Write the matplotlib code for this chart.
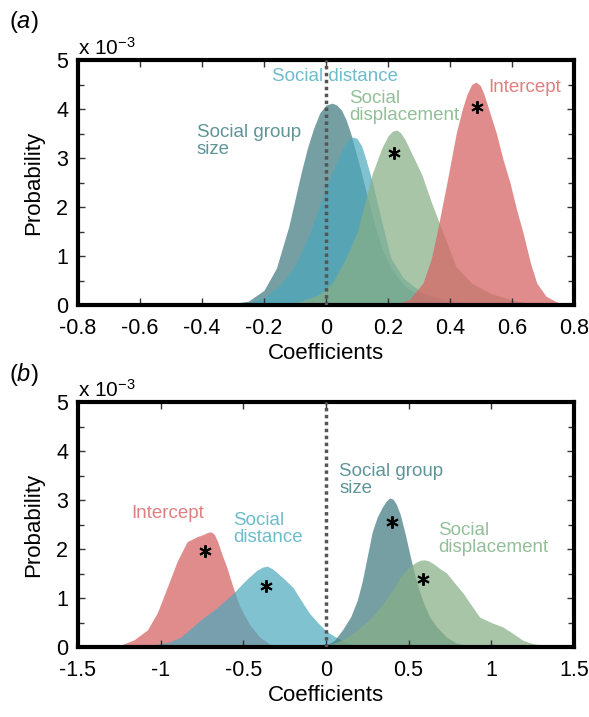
import matplotlib
matplotlib.use("Agg")
import matplotlib.pyplot as plt
from matplotlib.ticker import MultipleLocator

plt.rcParams['font.family'] = ['Liberation Sans', 'DejaVu Sans']
plt.rcParams['mathtext.fontset'] = 'custom'
plt.rcParams['mathtext.rm'] = 'Liberation Sans'
plt.rcParams['mathtext.it'] = 'Liberation Sans:italic'

# colours
c_red = '#d86666'
c_green = '#87af87'
c_blue = '#4ba8bc'
c_teal = '#407a80'

# ---- panel (a) densities, y in units of 1e-3 ----
a_group_x = [-0.36, -0.3, -0.25, -0.2, -0.16, -0.12, -0.1, -0.08, -0.06, -0.04, -0.02, 0.0, 0.02, 0.035, 0.05, 0.065, 0.08, 0.11, 0.15, 0.18, 0.21, 0.25, 0.3, 0.36, 0.42]
a_group_y = [0.0, 0.03, 0.08, 0.3, 0.75, 1.6, 2.15, 2.7, 3.2, 3.6, 3.92, 4.08, 4.12, 4.08, 3.98, 3.78, 3.5, 2.8, 1.8, 1.15, 0.75, 0.4, 0.2, 0.07, 0.0]

a_dist_x = [-0.32, -0.25, -0.2, -0.15, -0.1, -0.05, 0.0, 0.03, 0.05, 0.07, 0.085, 0.1, 0.115, 0.13, 0.15, 0.18, 0.21, 0.25, 0.31, 0.38, 0.45, 0.52]
a_dist_y = [0.0, 0.05, 0.15, 0.4, 0.8, 1.5, 2.4, 2.85, 3.15, 3.35, 3.43, 3.4, 3.25, 2.95, 2.5, 1.7, 0.95, 0.55, 0.25, 0.12, 0.05, 0.0]

a_disp_x = [-0.15, -0.08, -0.02, 0.02, 0.06, 0.1, 0.13, 0.15, 0.18, 0.2, 0.215, 0.228, 0.24, 0.255, 0.28, 0.31, 0.34, 0.37, 0.42, 0.47, 0.53, 0.6, 0.7]
a_disp_y = [0.0, 0.08, 0.22, 0.45, 0.9, 1.47, 2.2, 2.69, 3.2, 3.45, 3.55, 3.57, 3.52, 3.38, 3.05, 2.65, 2.1, 1.6, 0.78, 0.45, 0.24, 0.1, 0.0]

a_int_x = [0.22, 0.27, 0.313, 0.34, 0.358, 0.39, 0.42, 0.44, 0.455, 0.47, 0.484, 0.498, 0.51, 0.525, 0.55, 0.57, 0.594, 0.615, 0.636, 0.66, 0.68, 0.71, 0.745, 0.78]
a_int_y = [0.0, 0.12, 0.45, 0.95, 1.47, 2.49, 3.5, 4.0, 4.3, 4.5, 4.55, 4.48, 4.3, 4.0, 3.5, 3.0, 2.49, 1.95, 1.47, 0.85, 0.45, 0.18, 0.06, 0.0]

a_stars_x = [0.487, 0.22]
a_stars_y = [4.04, 3.1]
a_ticks = [-0.8, -0.6, -0.4, -0.2, 0, 0.2, 0.4, 0.6, 0.8]
a_ticklabels = ['-0.8', '-0.6', '-0.4', '-0.2', '0', '0.2', '0.4', '0.6', '0.8']

# ---- panel (b) densities ----
b_int_x = [-1.35, -1.24, -1.16, -1.08, -1.02, -0.96, -0.9, -0.84, -0.78, -0.74, -0.715, -0.695, -0.675, -0.655, -0.63, -0.6, -0.56, -0.52, -0.46, -0.4, -0.34, -0.28]
b_int_y = [0.0, 0.04, 0.15, 0.35, 0.7, 1.22, 1.75, 2.15, 2.25, 2.3, 2.34, 2.35, 2.3, 2.15, 1.9, 1.63, 1.2, 0.82, 0.45, 0.2, 0.06, 0.0]

b_dist_x = [-1.25, -1.06, -0.95, -0.88, -0.82, -0.76, -0.66, -0.56, -0.48, -0.42, -0.385, -0.355, -0.325, -0.3, -0.25, -0.2, -0.15, -0.1, -0.05, 0.0, 0.05, 0.1, 0.17, 0.25]
b_dist_y = [0.0, 0.04, 0.1, 0.2, 0.37, 0.55, 0.8, 1.1, 1.38, 1.56, 1.63, 1.65, 1.6, 1.53, 1.38, 1.22, 0.95, 0.69, 0.5, 0.33, 0.22, 0.13, 0.05, 0.0]

b_group_x = [-0.05, 0.0, 0.05, 0.1, 0.15, 0.19, 0.22, 0.25, 0.28, 0.31, 0.34, 0.365, 0.385, 0.405, 0.425, 0.45, 0.48, 0.51, 0.535, 0.56, 0.59, 0.63, 0.67, 0.73, 0.79, 0.9]
b_group_y = [0.0, 0.04, 0.13, 0.35, 0.62, 0.96, 1.35, 1.85, 2.35, 2.65, 2.85, 2.98, 3.04, 3.02, 2.92, 2.7, 2.3, 1.85, 1.5, 1.2, 0.9, 0.6, 0.41, 0.2, 0.08, 0.0]

b_disp_x = [-0.05, 0.05, 0.12, 0.19, 0.26, 0.33, 0.4, 0.45, 0.5, 0.54, 0.57, 0.595, 0.62, 0.65, 0.69, 0.73, 0.78, 0.83, 0.88, 0.93, 1.0, 1.07, 1.13, 1.19, 1.25, 1.31, 1.4]
b_disp_y = [0.0, 0.08, 0.18, 0.35, 0.55, 0.82, 1.15, 1.43, 1.62, 1.72, 1.77, 1.78, 1.76, 1.7, 1.6, 1.51, 1.3, 1.1, 0.85, 0.61, 0.5, 0.41, 0.28, 0.14, 0.07, 0.04, 0.0]

b_stars_x = [-0.73, -0.36, 0.40, 0.59]
b_stars_y = [1.96, 1.25, 2.55, 1.39]
b_ticks = [-1.5, -1, -0.5, 0, 0.5, 1, 1.5]
b_ticklabels = ['-1.5', '-1', '-0.5', '0', '0.5', '1', '1.5']

fig = plt.figure(figsize=(5.89, 7.17), dpi=100)
ax_a = fig.add_axes([0.1324, 0.5746, 0.842, 0.3417])
ax_b = fig.add_axes([0.1324, 0.0976, 0.842, 0.3417])


def style_axes(ax, xlim, ticks, labels):
    ax.set_xlim(*xlim)
    ax.set_ylim(0, 5)
    ax.set_xticks(ticks)
    ax.set_xticklabels(labels)
    ax.yaxis.set_major_locator(MultipleLocator(1))
    ax.yaxis.set_minor_locator(MultipleLocator(0.5))
    ax.tick_params(which='both', direction='in', top=True, right=True,
                   labelsize=15.5, width=1, color='#333333')
    ax.tick_params(axis='x', which='major', length=5, pad=9)
    ax.tick_params(axis='y', which='major', length=5, pad=7)
    ax.tick_params(which='minor', length=4)
    for s in ax.spines.values():
        s.set_linewidth(3)
    ax.set_xlabel('Coefficients', fontsize=16, labelpad=3)
    ax.set_ylabel('Probability', fontsize=16, labelpad=9)
    ax.axvline(0, color='#555555', lw=2.5, ls=(0, (1, 1)), zorder=5)
    ax.text(0.0, 1.005, 'x 10$^{-3}$', transform=ax.transAxes, fontsize=15,
            ha='left', va='bottom')


# panel a
ax = ax_a
ax.fill_between(a_group_x, a_group_y, color=c_teal, alpha=0.72, lw=0)
ax.fill_between(a_dist_x, a_dist_y, color=c_blue, alpha=0.7, lw=0)
ax.fill_between(a_disp_x, a_disp_y, color=c_green, alpha=0.72, lw=0)
ax.fill_between(a_int_x, a_int_y, color=c_red, alpha=0.75, lw=0)
ax.plot(a_stars_x, a_stars_y, ls='none', marker=(6, 2, 0), ms=9, mew=1.4, color='black', zorder=6)
style_axes(ax, (-0.8, 0.8), a_ticks, a_ticklabels)
ax.text(0.03, 4.67, 'Social distance', color='#6dbccb', fontsize=13.5, ha='center', va='center')
ax.text(0.074, 4.05, 'Social\ndisplacement', color='#93bf98', fontsize=13.5, ha='left', va='center', linespacing=1.0)
ax.text(0.64, 4.43, 'Intercept', color='#e07f7f', fontsize=13.5, ha='center', va='center')
ax.text(-0.416, 3.35, 'Social group\nsize', color='#5f9499', fontsize=13.5, ha='left', va='center', linespacing=1.0)

# panel b
ax = ax_b
ax.fill_between(b_int_x, b_int_y, color=c_red, alpha=0.75, lw=0)
ax.fill_between(b_dist_x, b_dist_y, color=c_blue, alpha=0.7, lw=0)
ax.fill_between(b_group_x, b_group_y, color=c_teal, alpha=0.72, lw=0)
ax.fill_between(b_disp_x, b_disp_y, color=c_green, alpha=0.72, lw=0)
ax.plot(b_stars_x, b_stars_y, ls='none', marker=(6, 2, 0), ms=9, mew=1.4, color='black', zorder=6)
style_axes(ax, (-1.5, 1.5), b_ticks, b_ticklabels)
ax.text(-1.18, 2.72, 'Intercept', color='#e07f7f', fontsize=13.5, ha='left', va='center')
ax.text(-0.56, 2.4, 'Social\ndistance', color='#6dbccb', fontsize=13.5, ha='left', va='center', linespacing=1.0)
ax.text(0.08, 3.4, 'Social group\nsize', color='#5f9499', fontsize=13.5, ha='left', va='center', linespacing=1.0)
ax.text(0.68, 2.2, 'Social\ndisplacement', color='#93bf98', fontsize=13.5, ha='left', va='center', linespacing=1.0)

# panel letters
fig.text(0.015, 0.969, '($a$)', fontsize=17, ha='left', va='center')
fig.text(0.015, 0.477, '($b$)', fontsize=17, ha='left', va='center')

fig.savefig('out.png', dpi=100)
